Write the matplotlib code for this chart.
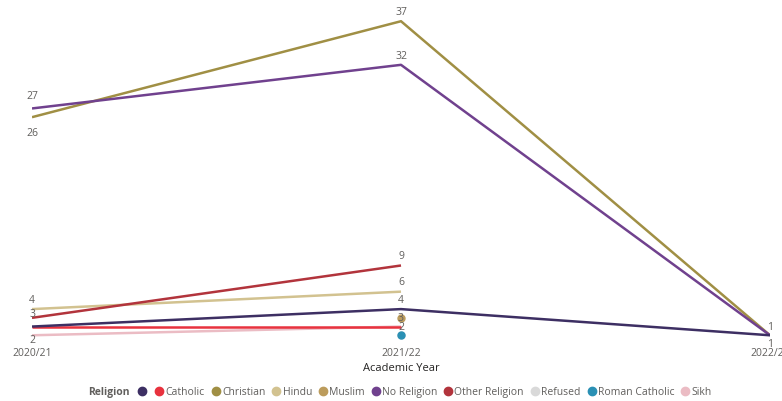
import numpy as np
import matplotlib
matplotlib.use("Agg")
import matplotlib.pyplot as plt
from matplotlib.lines import Line2D

plt.rcParams['font.family'] = ['Open Sans', 'DejaVu Sans']

years = ['2020/21', '2021/22', '2022/23']
religions = ['', 'Catholic', 'Christian', 'Hindu', 'Muslim', 'No Religion',
             'Other Religion', 'Refused', 'Roman Catholic', 'Sikh']
colors = ['#3d2f63', '#e8323e', '#a08f44', '#d2c290', '#bc9c5c', '#70418e',
          '#b2343c', '#d9d9d9', '#2a90b4', '#ebbcc4']

# counts per academic year (nan = no pupils that year)
blank = [2, 4, 1]
catholic = [2, 2, np.nan]
christian = [26, 37, 1]
hindu = [4, 6, np.nan]
muslim = [np.nan, 3, np.nan]
no_religion = [27, 32, 1]
other_religion = [3, 9, np.nan]
refused = [np.nan, 1, np.nan]
roman_catholic = [np.nan, 1, np.nan]
sikh = [1, 2, np.nan]

series = [blank, catholic, christian, hindu, muslim, no_religion,
          other_religion, refused, roman_catholic, sikh]

# (series index, year index, label offset in points)
labels = [(5, 0, 9), (2, 0, -11), (3, 0, 7), (6, 0, 3), (1, 0, -9),
          (2, 1, 7), (5, 1, 7), (6, 1, 7), (3, 1, 7), (0, 1, 7),
          (4, 1, 0), (1, 1, 0),
          (2, 2, 6), (5, 2, -6)]

fig = plt.figure(figsize=(7.82, 4.02), dpi=100)
ax = fig.add_axes([32 / 782, 1 - 345 / 402, 738 / 782, 335 / 402])

x = np.arange(len(years))
draw_order = [2, 5, 3, 6, 7, 9, 1, 0, 4, 8]
for i in draw_order:
    y = np.array(series[i], dtype=float)
    ax.plot(x, y, color=colors[i], lw=1.8, solid_capstyle='butt', zorder=2)
    if np.count_nonzero(~np.isnan(y)) == 1:
        ax.plot(x, y, 'o', color=colors[i], ms=5, zorder=3)

for si, yi, off in labels:
    v = series[si][yi]
    ax.annotate(str(int(v)), (x[yi], v), xytext=(0, off), textcoords='offset points',
                ha='center', va='center', fontsize=7.5, color='#605e5c')

ax.set_xlim(0, 2)
ax.set_ylim(0, 38.4)
ax.set_yticks([])
ax.set_xticks(x)
ax.set_xticklabels(years, fontsize=7.5, color='#605e5c')
ax.tick_params(axis='x', length=0, pad=2)
for s in ax.spines.values():
    s.set_visible(False)
ax.set_xlabel('Academic Year', fontsize=8, color='#252423', labelpad=3)

fig.text(88 / 782, 1 - 393 / 402, 'Religion', fontsize=7.5, fontweight='bold',
         color='#605e5c', ha='left', va='center')
handles = [Line2D([], [], marker='o', ls='', color=c, ms=6) for c in colors]
fig.legend(handles, religions, loc='center left', bbox_to_anchor=(136 / 782, 1 - 393 / 402),
           ncol=len(religions), frameon=False, fontsize=7.5, handletextpad=0.0,
           columnspacing=0.45, handlelength=1.2, labelcolor='#605e5c', borderpad=0,
           borderaxespad=0)

fig.savefig('out.png', dpi=100)
